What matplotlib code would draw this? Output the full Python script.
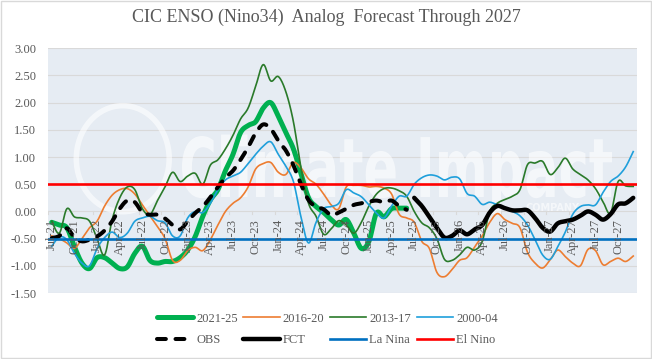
import numpy as np
import matplotlib
matplotlib.use("Agg")
import matplotlib.pyplot as plt
from matplotlib.patches import Rectangle, Ellipse, PathPatch
from matplotlib.textpath import TextPath
from matplotlib.font_manager import FontProperties
from matplotlib.transforms import Affine2D

plt.rcParams['axes.unicode_minus'] = False
SERIF = ['Liberation Serif', 'DejaVu Serif']
GREY = '#595959'

# ---------------- data ----------------
months = ['Jul-21', 'Aug-21', 'Sep-21', 'Oct-21', 'Nov-21', 'Dec-21']
mnames = ['Jan', 'Feb', 'Mar', 'Apr', 'May', 'Jun', 'Jul', 'Aug', 'Sep', 'Oct', 'Nov', 'Dec']
for yr in range(22, 28):
    months += [f'{m}-{yr}' for m in mnames]

s2021_25 = [-0.20, -0.25, -0.30, -0.65, -0.95, -1.05, -0.85, -0.85, -0.95, -1.05,
            -1.02, -0.77, -0.64, -0.90, -0.95, -0.92, -0.92, -0.85, -0.71, -0.46,
            -0.09, 0.21, 0.40, 0.75, 1.05, 1.45, 1.58, 1.65, 1.90, 2.00,
            1.75, 1.45, 1.15, 0.70, 0.25, 0.09, -0.02, -0.15, -0.25, -0.15,
            -0.40, -0.68, -0.55, -0.03, -0.10, 0.05, 0.06, 0.06]

s2016_20 = [-0.45, -0.50, -0.58, -0.68, -0.50, -0.30, -0.18, 0.10, 0.30, 0.40,
            0.42, 0.32, 0.12, -0.08, -0.28, -0.50, -0.90, -0.90, -0.72, -0.66,
            -0.72, -0.52, -0.25, 0.00, 0.15, 0.25, 0.45, 0.78, 0.88, 0.90,
            0.72, 0.68, 0.90, 0.80, 0.60, 0.50, 0.32, 0.12, 0.05, 0.45,
            0.48, 0.48, 0.45, 0.46, 0.43, 0.32, -0.05, -0.12, -0.20, -0.55,
            -0.68, -1.12, -1.20, -1.07, -0.90, -0.85, -0.65, -0.45, -0.20, -0.04,
            -0.15, -0.22, -0.30, -0.75, -0.95, -1.04, -0.89, -0.71, -0.83, -0.95,
            -1.00, -0.70, -0.72, -0.98, -0.92, -0.86, -0.92, -0.82]

s2013_17 = [-0.18, -0.40, 0.05, -0.10, -0.12, -0.18, -0.50, -0.80, -0.15, 0.25,
            0.45, 0.40, 0.05, -0.06, 0.20, 0.45, 0.72, 0.55, 0.65, 0.70,
            0.50, 0.85, 0.95, 1.15, 1.40, 1.70, 1.90, 2.30, 2.70, 2.40,
            2.48, 2.20, 1.65, 0.80, 0.15, -0.09, -0.42, -0.32, -0.17, -0.25,
            -0.40, -0.20, 0.10, 0.32, 0.42, 0.43, 0.38, 0.28, 0.00, -0.21,
            -0.30, -0.50, -0.88, -0.90, -0.80, -0.66, -0.71, -0.55, 0.00, 0.15,
            0.22, 0.28, 0.40, 0.86, 0.89, 0.92, 0.68, 0.80, 0.98, 0.78,
            0.68, 0.58, 0.42, 0.18, -0.03, 0.55, 0.47, 0.46]

s2000_04 = [-0.64, -0.47, -0.52, -0.77, -0.95, -1.00, -0.68, -0.48, -0.38, -0.48,
            -0.40, -0.18, -0.12, -0.09, -0.17, -0.21, -0.45, -0.45, -0.12, 0.00,
            -0.02, 0.15, 0.40, 0.58, 0.65, 0.72, 0.88, 1.05, 1.20, 1.28,
            1.05, 0.83, 0.55, -0.10, -0.58, -0.20, 0.05, 0.09, 0.15, 0.40,
            0.34, 0.27, 0.12, -0.03, -0.12, 0.10, 0.28, 0.28, 0.50, 0.62,
            0.67, 0.65, 0.58, 0.63, 0.60, 0.33, 0.28, 0.13, 0.17, 0.12,
            0.07, 0.00, -0.08, -0.25, -0.52, -0.80, -0.88, -0.65, -0.38, -0.05,
            0.09, 0.12, 0.12, 0.35, 0.55, 0.65, 0.82, 1.10]

obs = [-0.49, -0.45, -0.31, -0.48, -0.55, -0.52, -0.46, -0.35, -0.18, 0.05,
       0.20, 0.17, -0.02, -0.06, -0.06, -0.13, -0.25, -0.33, -0.18, -0.03,
       0.09, 0.26, 0.45, 0.62, 0.75, 0.95, 1.18, 1.44, 1.60, 1.52,
       1.30, 1.12, 0.85, 0.50, 0.21, 0.09, 0.04, -0.07, -0.02, 0.05,
       0.12, 0.15, 0.18, 0.20, 0.17, 0.20, 0.10, 0.03]

fct_start = 48
fct = [0.25, 0.10, -0.10, -0.30, -0.48, -0.45, -0.35, -0.42, -0.33, -0.25,
       -0.02, 0.10, 0.06, 0.02, 0.02, 0.02, -0.12, -0.30, -0.37, -0.22,
       -0.18, -0.15, -0.08, 0.00, -0.06, -0.15, -0.05, 0.13, 0.15, 0.25]

la_nina = -0.5
el_nino = 0.5
yticks = [-1.5, -1.0, -0.5, 0.0, 0.5, 1.0, 1.5, 2.0, 2.5, 3.0]


def smooth(x, y, n=10):
    P = np.column_stack([np.asarray(x, float), np.asarray(y, float)])
    P = np.vstack([P[0], P, P[-1]])
    t = np.linspace(0, 1, n, endpoint=False)[:, None]
    out = []
    for k in range(1, len(P) - 2):
        p0, p1, p2, p3 = P[k - 1], P[k], P[k + 1], P[k + 2]
        c1 = p1 + (p2 - p0) / 6
        c2 = p2 - (p3 - p1) / 6
        out.append((1 - t) ** 3 * p1 + 3 * (1 - t) ** 2 * t * c1 + 3 * (1 - t) * t ** 2 * c2 + t ** 3 * p2)
    out.append(P[-2][None, :])
    Q = np.vstack(out)
    return Q[:, 0], Q[:, 1]


fig = plt.figure(figsize=(6.52, 3.59), dpi=100)
fig.add_artist(Rectangle((0.001, 0.002), 0.997, 0.995, transform=fig.transFigure,
                         fill=False, edgecolor='#D9D9D9', lw=1.0))

ax = fig.add_axes([0.0736, 0.1838, 0.9034, 0.6817])
ax.set_facecolor('#E6ECF3')
for s in ax.spines.values():
    s.set_visible(False)
n = len(months)
ax.set_xlim(-0.5, n - 0.5)
ax.set_ylim(-1.5, 3.0)
ax.set_yticks(yticks)
ax.set_yticklabels([f'{v:.2f}' for v in yticks], fontfamily=SERIF, fontsize=9, color=GREY)
ax.tick_params(axis='y', length=0, pad=8.5)
ax.set_xticks([])
for v in yticks:
    ax.axhline(v, color='#D9D9D9', lw=0.8, zorder=0.5)

# watermark (drawn inside the axes, beneath the series)
wm = '#FFFFFF'
ax.add_patch(Ellipse((9.4, 0.97), 12.3, 1.95, fill=False, edgecolor=wm, lw=4, alpha=0.6, zorder=0.6))
fp = FontProperties(family='DejaVu Sans', weight='bold')
tp = TextPath((0, 0), 'Climate Impact', size=1, prop=fp)
ext = tp.get_extents()
W, H = 652.0, 359.0
x0, x1 = 182 / W, 612 / W
ybase = (H - 197) / H
capfrac = 60 / H / 0.73
tr = Affine2D().translate(-ext.x0, 0).scale((x1 - x0) / ext.width, capfrac).translate(x0, ybase)
wpatch = PathPatch(tr.transform_path(tp), facecolor=wm, edgecolor='none', alpha=0.6,
                   transform=fig.transFigure, zorder=0.7)
ax.add_artist(wpatch)
ax.text(552 / W, 1 - 208 / H, 'COMPANY', color=wm, alpha=0.6, fontsize=7, ha='center',
        va='center', fontweight='bold', zorder=0.7, transform=fig.transFigure)

x = np.arange(n)
ax.plot(*smooth(x[:len(s2021_25)], s2021_25), color='#00B050', lw=3.6, solid_capstyle='round', zorder=2, label='2021-25')
ax.plot(*smooth(x, s2016_20), color='#ED7D31', lw=1.2, zorder=3, label='2016-20')
ax.plot(*smooth(x, s2013_17), color='#2A7A2A', lw=1.2, zorder=4, label='2013-17')
ax.plot(*smooth(x, s2000_04), color='#1F9FDB', lw=1.2, zorder=5, label='2000-04')
ax.plot(*smooth(x[:len(obs)], obs), color='black', lw=2.9, dashes=(2.2, 2.4), dash_capstyle='round',
        zorder=6, label='OBS')
ax.plot(*smooth(x[fct_start:fct_start + len(fct)], fct), color='black', lw=3.2, solid_capstyle='round',
        zorder=7, label='FCT')
ax.plot([-0.5, n - 0.5], [la_nina, la_nina], color='#0070C0', lw=1.9, zorder=8, label='La Nina')
ax.plot([-0.5, n - 0.5], [el_nino, el_nino], color='#FF0000', lw=1.9, zorder=9, label='El Nino')

# category labels hanging below the zero line
for i in range(0, n, 3):
    ax.annotate(months[i], (i, 0), xytext=(0, -5.5), textcoords='offset points', rotation=90,
                ha='center', va='top', fontsize=9, color=GREY, fontfamily=SERIF, zorder=10)
    ax.plot([i - 0.5, i - 0.5], [0, -0.05], color='#D9D9D9', lw=0.8, zorder=1)

fig.suptitle('CIC ENSO (Nino34)  Analog  Forecast Through 2027', x=0.5, y=0.975, fontsize=13,
             color=GREY, fontfamily=SERIF)

h, l = ax.get_legend_handles_labels()
order = [0, 4, 1, 5, 2, 6, 3, 7]
leg = fig.legend([h[k] for k in order], [l[k] for k in order], loc='center',
                 bbox_to_anchor=(0.502, 0.082), ncol=4, frameon=False,
                 prop={'family': SERIF, 'size': 9}, handlelength=2.9, handletextpad=0.25,
                 columnspacing=0.45, labelspacing=0.75, labelcolor=GREY)

fig.savefig('out.png', dpi=100)
